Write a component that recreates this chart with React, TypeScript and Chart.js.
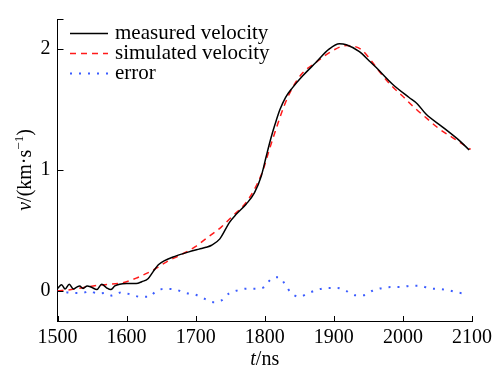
import React, { useEffect, useRef } from "react";
import { Chart, registerables } from "chart.js";

Chart.register(...registerables);

// measured velocity (t in ns, v in km/s)
const measuredT = [1500, 1506, 1511, 1517, 1523, 1528, 1532, 1537, 1543, 1549, 1557, 1564, 1571, 1577, 1583, 1590, 1600, 1614, 1622, 1631, 1638, 1646, 1655, 1670, 1689, 1705, 1715, 1723, 1735, 1749, 1759, 1773, 1785, 1795, 1802, 1809, 1815, 1822, 1830, 1840, 1855, 1874, 1893, 1908, 1918, 1937, 1951, 1961, 1985, 2009, 2021, 2033, 2057, 2081, 2096];
const measuredV = [0.02, 0.05, 0.015, 0.055, 0.015, 0.03, 0.04, 0.02, 0.04, 0.03, 0.01, 0.055, 0.025, 0.01, 0.04, 0.055, 0.06, 0.06, 0.075, 0.1, 0.155, 0.215, 0.25, 0.285, 0.32, 0.345, 0.36, 0.377, 0.43, 0.567, 0.635, 0.717, 0.81, 0.95, 1.11, 1.265, 1.38, 1.5, 1.6, 1.68, 1.78, 1.89, 2.0, 2.045, 2.037, 1.98, 1.905, 1.85, 1.71, 1.6, 1.547, 1.465, 1.357, 1.247, 1.166];

// simulated velocity
const simulatedT = [1500, 1520, 1540, 1566, 1593, 1614, 1619, 1638, 1658, 1678, 1699, 1718, 1737, 1754, 1771, 1785, 1797, 1807, 1817, 1828, 1840, 1855, 1874, 1893, 1918, 1939, 1954, 1968, 1983, 1999, 2016, 2035, 2052, 2074, 2098];
const simulatedV = [0.0, 0.01, 0.03, 0.05, 0.065, 0.105, 0.118, 0.17, 0.24, 0.297, 0.363, 0.445, 0.527, 0.622, 0.717, 0.84, 0.99, 1.175, 1.35, 1.53, 1.68, 1.805, 1.89, 1.97, 2.03, 2.0, 1.906, 1.8, 1.7, 1.615, 1.52, 1.425, 1.343, 1.26, 1.17];

// error
const errorT = [1500, 1525, 1535, 1547, 1558, 1569, 1579, 1593, 1606, 1620, 1633, 1643, 1658, 1671, 1685, 1699, 1712, 1725, 1738, 1748, 1761, 1775, 1789, 1799, 1809, 1820, 1830, 1837, 1850, 1863, 1877, 1891, 1905, 1917, 1931, 1943, 1956, 1970, 1984, 1997, 2011, 2025, 2039, 2053, 2066, 2080, 2094];
const errorV = [0.0, -0.018, -0.018, -0.004, -0.023, -0.018, -0.04, -0.012, -0.031, -0.05, -0.05, 0.0, 0.015, 0.01, -0.018, -0.031, -0.064, -0.094, -0.078, -0.023, 0.004, 0.018, 0.018, 0.03, 0.097, 0.113, 0.05, -0.01, -0.05, -0.02, 0.01, 0.023, 0.023, 0.002, -0.037, -0.037, 0.0, 0.023, 0.031, 0.031, 0.042, 0.042, 0.018, 0.015, 0.004, -0.015, -0.026];

const seriesLabels = ["measured velocity", "simulated velocity", "error"];
const xTicks = [1500, 1600, 1700, 1800, 1900, 2000, 2100];
const yTicks = [0, 1, 2];

const SERIF = "'Liberation Serif', 'Times New Roman', Times, serif";

const toPoints = (ts: number[], vs: number[]) => ts.map((t, i) => ({ x: t, y: vs[i] }));

const decorPlugin = {
  id: "decor",
  afterDraw(chart: any) {
    const ctx = chart.ctx as CanvasRenderingContext2D;
    const xs = chart.scales.x;
    const ys = chart.scales.y;
    const area = chart.chartArea;
    ctx.save();
    // inward ticks
    ctx.strokeStyle = "#000";
    ctx.lineWidth = 1;
    ctx.setLineDash([]);
    xTicks.forEach((v) => {
      const px = Math.round(xs.getPixelForValue(v)) + 0.5;
      ctx.beginPath();
      ctx.moveTo(px, area.bottom);
      ctx.lineTo(px, area.bottom - 5);
      ctx.stroke();
    });
    [...yTicks, ys.max].forEach((v) => {
      const py = Math.round(ys.getPixelForValue(v)) + 0.5;
      ctx.beginPath();
      ctx.moveTo(area.left, py);
      ctx.lineTo(area.left + 6, py);
      ctx.stroke();
    });

    // legend
    const ds = chart.data.datasets;
    const rowY = [33.5, 53.5, 73.5];
    ds.forEach((d: any, i: number) => {
      ctx.strokeStyle = d.borderColor;
      ctx.lineWidth = d.borderWidth;
      ctx.setLineDash(d.borderDash || []);
      ctx.beginPath();
      ctx.moveTo(70, rowY[i]);
      ctx.lineTo(108, rowY[i]);
      ctx.stroke();
      ctx.setLineDash([]);
      ctx.fillStyle = "#000";
      ctx.font = `21px ${SERIF}`;
      ctx.textBaseline = "alphabetic";
      ctx.textAlign = "left";
      ctx.fillText(d.label, 115, rowY[i] + 5.5);
    });

    // x title: t/ns
    ctx.fillStyle = "#000";
    ctx.textBaseline = "alphabetic";
    ctx.textAlign = "left";
    const cx = (area.left + area.right) / 2;
    ctx.font = `italic 20px ${SERIF}`;
    const wt = ctx.measureText("t").width;
    ctx.font = `20px ${SERIF}`;
    const wns = ctx.measureText("/ns").width;
    const x0 = cx - (wt + wns) / 2;
    ctx.font = `italic 20px ${SERIF}`;
    ctx.fillText("t", x0, 365);
    ctx.font = `20px ${SERIF}`;
    ctx.fillText("/ns", x0 + wt, 365);

    // y title: v/(km·s^-1)
    const cy = (area.top + area.bottom) / 2;
    ctx.translate(31, cy);
    ctx.rotate(-Math.PI / 2);
    ctx.font = `italic 20px ${SERIF}`;
    const wv = ctx.measureText("v").width;
    ctx.font = `20px ${SERIF}`;
    const wmid = ctx.measureText("/(km·s").width;
    const wclose = ctx.measureText(")").width;
    ctx.font = `13px ${SERIF}`;
    const wsup = ctx.measureText("−1").width;
    const total = wv + wmid + wsup + wclose;
    let px = -total / 2;
    ctx.font = `italic 20px ${SERIF}`;
    ctx.fillText("v", px, 0);
    px += wv;
    ctx.font = `20px ${SERIF}`;
    ctx.fillText("/(km·s", px, 0);
    px += wmid;
    ctx.font = `13px ${SERIF}`;
    ctx.fillText("−1", px, -8);
    px += wsup;
    ctx.font = `20px ${SERIF}`;
    ctx.fillText(")", px, 0);
    ctx.restore();
  },
};

export default function App() {
  const ref = useRef<HTMLCanvasElement | null>(null);
  useEffect(() => {
    let chart: Chart | null = null;
    let cancelled = false;
    const build = () => {
      if (cancelled || !ref.current) return;
      chart = new Chart(ref.current, {
        type: "line",
        data: {
          datasets: [
            {
              label: seriesLabels[0],
              data: toPoints(measuredT, measuredV),
              borderColor: "#000000",
              borderWidth: 1.5,
              pointRadius: 0,
              cubicInterpolationMode: "monotone",
              fill: false,
            },
            {
              label: seriesLabels[1],
              data: toPoints(simulatedT, simulatedV),
              borderColor: "#ff1a1a",
              borderWidth: 1.5,
              borderDash: [6, 5],
              pointRadius: 0,
              cubicInterpolationMode: "monotone",
              fill: false,
            },
            {
              label: seriesLabels[2],
              data: toPoints(errorT, errorV),
              borderColor: "#3b5cff",
              borderWidth: 2,
              borderDash: [2, 7],
              pointRadius: 0,
              cubicInterpolationMode: "monotone",
              fill: false,
            },
          ],
        },
        options: {
          animation: false,
          responsive: true,
          maintainAspectRatio: false,
          layout: { padding: { top: 14, right: 24, left: 0, bottom: 0 } },
          plugins: { legend: { display: false }, tooltip: { enabled: false } },
          scales: {
            x: {
              type: "linear",
              min: 1500,
              max: 2100,
              afterBuildTicks: (s: any) => {
                s.ticks = xTicks.map((v) => ({ value: v }));
              },
              afterFit: (s: any) => {
                s.height = 47;
              },
              grid: { display: false, drawTicks: false },
              border: { display: true, color: "#000", width: 1 },
              ticks: {
                color: "#000",
                font: { family: SERIF, size: 20 },
                padding: 5,
                maxRotation: 0,
                autoSkip: false,
                callback: (v: any) => String(v),
              },
            },
            y: {
              type: "linear",
              min: -0.25,
              max: 2.25,
              afterBuildTicks: (s: any) => {
                s.ticks = yTicks.map((v) => ({ value: v }));
              },
              afterFit: (s: any) => {
                s.width = 57.5;
              },
              grid: { display: false, drawTicks: false },
              border: { display: true, color: "#000", width: 1 },
              ticks: {
                color: "#000",
                font: { family: SERIF, size: 20 },
                padding: 7,
                callback: (v: any) => String(v),
              },
            },
          },
        },
        plugins: [decorPlugin],
      });
    };
    const fonts: any = (document as any).fonts;
    if (fonts && fonts.load) {
      Promise.all([
        fonts.load("20px 'Liberation Serif'"),
        fonts.load("italic 20px 'Liberation Serif'"),
      ])
        .catch(() => null)
        .then(build);
    } else {
      build();
    }
    return () => {
      cancelled = true;
      if (chart) chart.destroy();
    };
  }, []);
  return (
    <div style={{ position: "absolute", left: 0, top: 0, width: 497, height: 368, background: "#fff" }}>
      <canvas ref={ref} />
    </div>
  );
}
